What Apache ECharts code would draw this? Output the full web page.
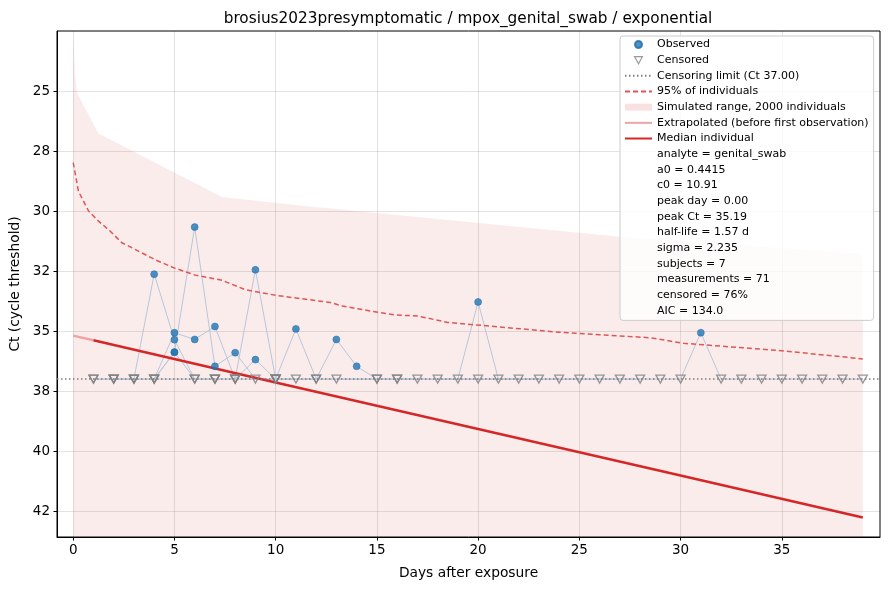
<!DOCTYPE html>
<html>
<head>
<meta charset="utf-8">
<script src="https://cdn.jsdelivr.net/npm/echarts@6/dist/echarts.min.js"></script>
<style>
  html, body { margin: 0; padding: 0; background: #fff; }
  #chart { width: 889px; height: 590px; }
</style>
</head>
<body>
<div id="chart"></div>
<script>
// values
var CENSOR_CT = 37;

var xTicks = [0, 5, 10, 15, 20, 25, 30, 35];
var yTickValues = [25, 27.5, 30, 32.5, 35, 37.5, 40, 42.5];
var yTickLabels = ['25', '28', '30', '32', '35', '38', '40', '42'];

// per subject: days and Ct (null = censored, drawn at the limit)
var subjectDays = [
    [1, 2, 3, 4, 5, 6, 7, 8],
    [1, 2, 3, 7, 10, 15, 23],
    [2, 3, 4, 5, 6, 7],
    [4, 5, 6, 7, 8, 9, 10, 11, 12, 13, 14, 15, 16, 17],
    [4, 5, 6, 7, 8, 9, 10, 11, 12],
    [8, 9, 10, 13, 16, 19, 20, 21, 22, 25, 28],
    [18, 20, 24, 26, 27, 29, 30, 31, 32, 33, 34, 35, 36, 37, 38, 39]
];
var subjectCt = [
    [null, null, null, null, 35.88, null, null, null],
    [null, null, null, null, null, null, null],
    [null, null, 32.63, 35.36, null, null],
    [null, 35.07, 35.35, 34.81, null, 32.45, null, 34.91, null, 35.35, 36.47, null, null, null],
    [null, 35.88, 30.67, 36.47, 35.9, null, null, null, null],
    [null, 36.19, null, null, null, null, 33.79, null, null, null, null],
    [null, null, null, null, null, null, null, 35.07, null, null, null, null, null, null, null, null]
];

// simulated range (upper edge, fills down to the bottom)
var bandDays = [0, 0.08, 0.2, 1.25, 7.35, 11.2, 27.0, 39.0];
var bandCt = [22.5, 24.2, 25.1, 26.77, 29.42, 29.77, 31.07, 31.78];

// 95% of individuals
var p95Days = [0, 0.26, 0.76, 1.25, 1.83, 2.4, 3.06, 4.05, 4.96, 6.03, 7.35, 7.6, 8.5, 10.07,
    12.7, 13.3, 14.8, 15.9, 17.0, 18.5, 21.6, 24.0, 26.0, 28.5, 30.15, 35.0, 39.0];
var p95Ct = [27.98, 29.18, 30.0, 30.42, 30.84, 31.32, 31.6, 32.03, 32.36, 32.67, 32.88, 32.97, 33.28, 33.52,
    33.81, 33.96, 34.18, 34.33, 34.37, 34.64, 34.87, 35.05, 35.15, 35.28, 35.51, 35.82, 36.16];

// median individual and extrapolation before first observation
var medDays = [1, 10, 20, 30, 39];
var medCt = [35.38, 37.14, 39.08, 41.02, 42.77];
var extDays = [0, 1];
var extCt = [35.19, 35.38];

var statLines = [
    'analyte = genital_swab',
    'a0 = 0.4415',
    'c0 = 10.91',
    'peak day = 0.00',
    'peak Ct = 35.19',
    'half-life = 1.57 d',
    'sigma = 2.235',
    'subjects = 7',
    'measurements = 71',
    'censored = 76%',
    'AIC = 134.0'
];

function zip(xs, ys) {
    return xs.map(function (x, i) { return [x, ys[i]]; });
}

var observed = [];
var censored = [];
var subjectSeries = [];
subjectDays.forEach(function (days, s) {
    var pts = [];
    days.forEach(function (d, i) {
        var v = subjectCt[s][i];
        if (v === null) {
            censored.push([d, CENSOR_CT]);
            pts.push([d, CENSOR_CT]);
        } else {
            observed.push([d, v]);
            pts.push([d, v]);
        }
    });
    subjectSeries.push({
        name: 'subject' + (s + 1),
        type: 'line',
        data: pts,
        symbol: 'none',
        z: 2,
        lineStyle: { color: '#b3c4da', width: 1, opacity: 0.95 },
        silent: true
    });
});

var FONT = 'DejaVu Sans';
var noSymbol = { opacity: 0 };

var chart = echarts.init(document.getElementById('chart'), null, { renderer: 'canvas' });

var legendData = [
    { name: 'Observed' },
    { name: 'Censored', icon: 'path://M0,0L10,0L5,9Z',
      itemStyle: { color: 'rgba(255,255,255,0)', borderColor: '#808080', borderWidth: 1.2 } },
    { name: 'Censoring limit (Ct 37.00)', itemStyle: noSymbol },
    { name: '95% of individuals', itemStyle: noSymbol },
    { name: 'Simulated range, 2000 individuals', icon: 'rect', itemStyle: { color: 'rgba(214,39,40,0.14)' } },
    { name: 'Extrapolated (before first observation)', itemStyle: noSymbol },
    { name: 'Median individual', itemStyle: noSymbol }
].concat(statLines.map(function (t) { return { name: t, icon: 'none' }; }));

var series = [
    {
        name: 'Simulated range, 2000 individuals',
        type: 'line',
        data: zip(bandDays, bandCt),
        symbol: 'none',
        z: 1,
        color: 'rgba(214,39,40,0.13)',
        lineStyle: { width: 0 },
        areaStyle: { color: 'rgba(214,39,40,0.13)', origin: 'end' },
        silent: true
    }
].concat(subjectSeries).concat([
    {
        name: 'Extrapolated (before first observation)',
        type: 'line',
        data: zip(extDays, extCt),
        symbol: 'none',
        z: 3,
        color: '#f0a3a3',
        lineStyle: { color: '#f0a3a3', width: 2.5 }
    },
    {
        name: 'Median individual',
        type: 'line',
        data: zip(medDays, medCt),
        symbol: 'none',
        z: 3,
        color: '#d62728',
        lineStyle: { color: '#d62728', width: 2.5 }
    },
    {
        name: '95% of individuals',
        type: 'line',
        data: zip(p95Days, p95Ct),
        symbol: 'none',
        z: 3,
        color: '#e05555',
        lineStyle: { color: '#e05555', width: 1.5, type: [5, 3] }
    },
    {
        name: 'Censoring limit (Ct 37.00)',
        type: 'line',
        data: [],
        symbol: 'none',
        z: 3,
        color: '#7f7f7f',
        lineStyle: { color: '#7f7f7f', width: 1.5, type: [1.5, 2.5] },
        markLine: {
            silent: true,
            symbol: 'none',
            label: { show: false },
            lineStyle: { color: '#7f7f7f', width: 1.5, type: [1.5, 2.5] },
            data: [{ yAxis: CENSOR_CT }]
        }
    },
    {
        name: 'Censored',
        type: 'scatter',
        data: censored,
        symbol: 'triangle',
        symbolRotate: 180,
        symbolSize: [9, 8],
        z: 4,
        itemStyle: { color: 'rgba(255,255,255,0)', borderColor: '#808080', borderWidth: 1.3 }
    },
    {
        name: 'Observed',
        type: 'scatter',
        data: observed,
        symbol: 'circle',
        symbolSize: 7,
        z: 5,
        itemStyle: { color: '#1f77b4', opacity: 0.8, borderColor: '#1f6aa5', borderWidth: 0.6 }
    }
]).concat(statLines.map(function (t) {
    return { name: t, type: 'line', data: [], symbol: 'none', lineStyle: { width: 0 } };
}));

chart.setOption({
    animation: false,
    textStyle: { fontFamily: FONT },
    title: {
        text: 'brosius2023presymptomatic / mpox_genital_swab / exponential',
        left: 463,
        top: 7,
        textAlign: 'center',
        textStyle: { fontFamily: FONT, fontSize: 15.3, fontWeight: 'normal', color: '#000' }
    },
    grid: {
        left: 57, right: 9, top: 31, bottom: 53,
        outerBoundsMode: 'none',
        containLabel: false,
        show: true, borderColor: '#000', borderWidth: 1, backgroundColor: 'transparent'
    },
    legend: {
        data: legendData,
        orient: 'vertical',
        left: 620,
        top: 36,
        padding: [3, 5, 4, 4],
        itemWidth: 27,
        itemHeight: 7,
        itemGap: 4.67,
        backgroundColor: 'rgba(255,255,255,0.8)',
        borderColor: '#cccccc',
        borderWidth: 1,
        borderRadius: 3,
        selectedMode: false,
        textStyle: { fontFamily: FONT, fontSize: 11, color: '#000', lineHeight: 11 }
    },
    xAxis: {
        type: 'value',
        min: -0.8,
        max: 39.85,
        name: 'Days after exposure',
        nameLocation: 'middle',
        nameGap: 29,
        nameTextStyle: { fontFamily: FONT, fontSize: 13.8, color: '#000' },
        axisLine: { show: true, onZero: false, lineStyle: { color: '#000', width: 1 } },
        axisTick: { show: true, length: 3.5, customValues: xTicks, lineStyle: { color: '#000' } },
        axisLabel: { customValues: xTicks, margin: 6, fontFamily: FONT, fontSize: 13.5, color: '#000' },
        splitLine: { show: true, customValues: xTicks, lineStyle: { color: 'rgba(0,0,0,0.11)', width: 1 } }
    },
    yAxis: {
        type: 'value',
        inverse: true,
        min: 22.5,
        max: 43.58,
        interval: 2.5,
        name: 'Ct (cycle threshold)',
        nameLocation: 'middle',
        nameGap: 34,
        nameTextStyle: { fontFamily: FONT, fontSize: 13.8, color: '#000' },
        axisLine: { show: true, onZero: false, lineStyle: { color: '#000', width: 1 } },
        axisTick: { show: true, length: 3.5, customValues: yTickValues, lineStyle: { color: '#000' } },
        axisLabel: {
            margin: 7,
            fontFamily: FONT,
            fontSize: 13.5,
            color: '#000',
            formatter: function (v) {
                for (var i = 0; i < yTickValues.length; i++) {
                    if (Math.abs(yTickValues[i] - v) < 1e-6) return yTickLabels[i];
                }
                return '';
            }
        },
        splitLine: { show: true, lineStyle: { color: 'rgba(0,0,0,0.11)', width: 1 } }
    },
    series: series
});
</script>
</body>
</html>
